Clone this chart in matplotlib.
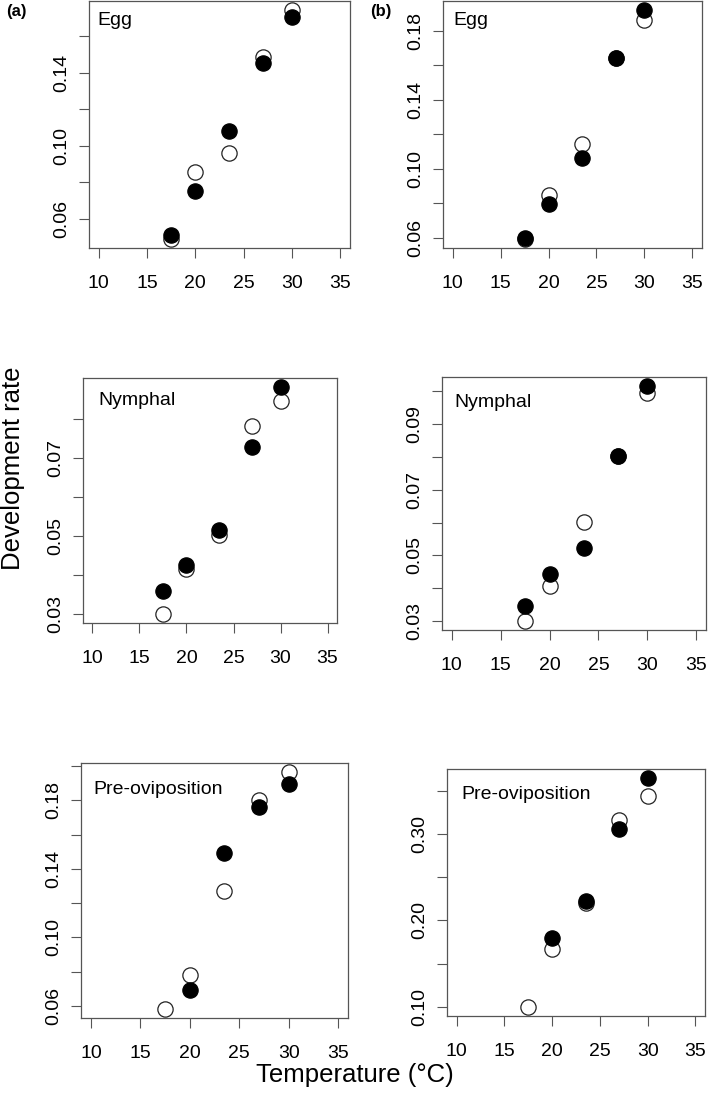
import numpy as np
import matplotlib.pyplot as plt

plt.rcParams['font.family'] = ['Liberation Sans', 'DejaVu Sans']

# Temperaturas testadas (eixo x)
temperatura = [17.5, 20, 23.5, 27, 30]

# Taxas de desenvolvimento (aberto = círculo vazio, cheio = círculo preenchido)
ovo_a_aberto = [0.0491, 0.0858, 0.0963, 0.1490, 0.1744]
ovo_a_cheio = [0.0514, 0.0753, 0.1081, 0.1453, 0.1704]
ovo_b_aberto = [0.0594, 0.0849, 0.1145, 0.1643, 0.1860]
ovo_b_cheio = [0.0600, 0.0797, 0.1061, 0.1643, 0.1918]
ninfa_a_aberto = [0.0300, 0.0415, 0.0502, 0.0782, 0.0845]
ninfa_a_cheio = [0.0358, 0.0425, 0.0515, 0.0728, 0.0881]
ninfa_b_aberto = [0.0302, 0.0406, 0.0602, 0.0802, 0.0993]
ninfa_b_cheio = [0.0346, 0.0443, 0.0522, 0.0802, 0.1014]
preov_a_aberto = [0.0585, 0.0778, 0.1269, 0.1804, 0.1962]
preov_a_cheio = [np.nan, 0.0693, 0.1491, 0.1763, 0.1897]
preov_b_aberto = [0.1000, 0.1673, 0.2204, 0.3165, 0.3438]
preov_b_cheio = [np.nan, 0.1796, 0.2223, 0.3054, 0.3646]

# Marcas do eixo y (todas) e quais recebem rótulo
yticks_ovo_a = [0.06, 0.08, 0.10, 0.12, 0.14, 0.16]
ylabels_ovo_a = ['0.06', '', '0.10', '', '0.14', '']
yticks_ovo_b = [0.06, 0.08, 0.10, 0.12, 0.14, 0.16, 0.18]
ylabels_ovo_b = ['0.06', '', '0.10', '', '0.14', '', '0.18']
yticks_ninfa_a = [0.03, 0.04, 0.05, 0.06, 0.07, 0.08]
ylabels_ninfa_a = ['0.03', '', '0.05', '', '0.07', '']
yticks_ninfa_b = [0.03, 0.04, 0.05, 0.06, 0.07, 0.08, 0.09, 0.10]
ylabels_ninfa_b = ['0.03', '', '0.05', '', '0.07', '', '0.09', '']
yticks_preov_a = [0.06, 0.08, 0.10, 0.12, 0.14, 0.16, 0.18, 0.20]
ylabels_preov_a = ['0.06', '', '0.10', '', '0.14', '', '0.18', '']
yticks_preov_b = [0.10, 0.15, 0.20, 0.25, 0.30, 0.35]
ylabels_preov_b = ['0.10', '', '0.20', '', '0.30', '']

xticks = [10, 15, 20, 25, 30, 35]

W, H = 709, 1109
fig = plt.figure(figsize=(W / 100, H / 100), dpi=100)

# (esquerda, direita, topo, base) em pixels, nome, dados, ticks, deslocamento do texto
paineis = [
    ((89, 350, 1, 248), 'Egg', ovo_a_aberto, ovo_a_cheio, yticks_ovo_a, ylabels_ovo_a, (8, 11)),
    ((443, 702, 1, 248), 'Egg', ovo_b_aberto, ovo_b_cheio, yticks_ovo_b, ylabels_ovo_b, (10, 11)),
    ((83, 337, 378, 623), 'Nymphal', ninfa_a_aberto, ninfa_a_cheio, yticks_ninfa_a, ylabels_ninfa_a, (15, 14)),
    ((442, 706, 377, 630), 'Nymphal', ninfa_b_aberto, ninfa_b_cheio, yticks_ninfa_b, ylabels_ninfa_b, (12, 17)),
    ((81, 348, 763, 1018), 'Pre-oviposition', preov_a_aberto, preov_a_cheio, yticks_preov_a, ylabels_preov_a, (12, 18)),
    ((447, 705, 769, 1016), 'Pre-oviposition', preov_b_aberto, preov_b_cheio, yticks_preov_b, ylabels_preov_b, (14, 17)),
]

cor_eixo = '#555555'

for (l, r, t, b), nome, aberto, cheio, yt, yl, (dx, dy) in paineis:
    ax = fig.add_axes([l / W, 1 - b / H, (r - l) / W, (b - t) / H])
    ax.plot(temperatura, aberto, 'o', ms=11, mfc='white', mec='#222222', mew=0.9, ls='none')
    ax.plot(temperatura, cheio, 'o', ms=11, mfc='black', mec='black', mew=0.9, ls='none')
    ax.margins(y=0.04)
    ax.set_xlim(9, 36)

    ax.set_xticks(xticks)
    ax.set_xticklabels([str(v) for v in xticks])
    ax.set_yticks(yt)
    ax.set_yticklabels(yl, rotation=90, va='center')
    ax.tick_params(axis='both', length=7.2, width=0.8, color=cor_eixo, labelsize=14, labelcolor='black')
    ax.tick_params(axis='x', pad=12)
    ax.tick_params(axis='y', pad=6.5)
    for s in ax.spines.values():
        s.set_color(cor_eixo)
        s.set_linewidth(0.9)

    ax.annotate(nome, xy=(0, 1), xycoords='axes fraction', xytext=(dx * 0.72, -dy * 0.72),
                textcoords='offset points', ha='left', va='top', fontsize=14)

# Rótulos dos painéis
fig.text(6 / W, 1 - 4 / H, '(a)', fontsize=12, fontweight='bold', ha='left', va='top')
fig.text(370 / W, 1 - 4 / H, '(b)', fontsize=12, fontweight='bold', ha='left', va='top')

# Rótulos gerais dos eixos
fig.text(13 / W, 1 - 468 / H, 'Development rate', rotation=90, fontsize=18.5, ha='center', va='center')
fig.text(355 / W, 1 - 1075 / H, 'Temperature (°C)', fontsize=18.5, ha='center', va='center')

plt.savefig('out.png', dpi=100)
